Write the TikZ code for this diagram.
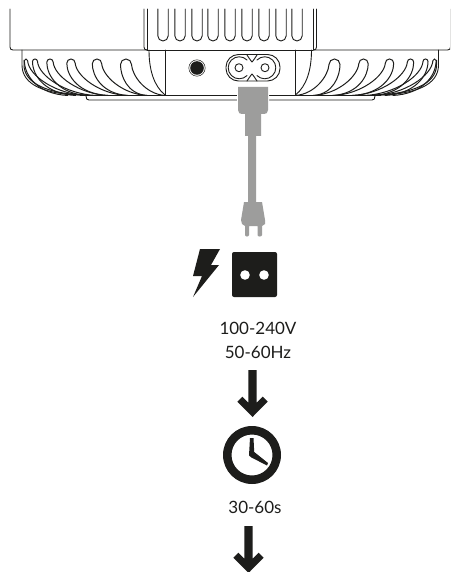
\documentclass[tikz,border=0pt]{standalone}
\usepackage{fontspec}
\setmainfont{Lato}
\definecolor{ink}{HTML}{1D1D1B}
\definecolor{plug}{HTML}{9D9D9C}
\tikzset{
  x=1pt,y=-1pt,
  outl/.style={draw=ink,line width=0.9pt,line cap=round,line join=round},
  thin outl/.style={draw=ink,line width=0.5pt},
  fin/.style={draw=ink,line width=1pt},
  solid ink/.style={fill=ink,draw=none},
  plugshape/.style={preaction={draw=white,line width=2pt},fill=plug},
  label/.style={text=ink,font=\fontsize{17}{20}\selectfont,inner sep=0pt,anchor=center}
}
\newcommand{\halfbody}{%
  \draw[outl] (10,9) -- (10,47) .. controls (10,49) and (11,50) .. (13,50) -- (147,50);
  \draw[outl] (144,9) -- (144,47) .. controls (144,49) and (145,50) .. (147,50);
  \draw[outl] (147,9) -- (147,50);
  \draw[outl] (22,50) -- (22,65) .. controls (22,85) and (45,95) .. (86,95);
  \draw[fin] (24,60) -- (24,65) .. controls (24,83) and (47,94) .. (86,95);
  \foreach \t/\h/\ya/\el/\er in {26/1.6/59/68/86,35/2.5/59/76/96,50/3.2/59/88/108,71/4.2/59/108/127,97/4.7/59/128/147,126/5.5/59/147/165}{
    \draw[fin] (\el,95.5) .. controls ({\t-\h+0.32*(\el-\t)},94) and ({\t-\h},76) .. ({\t-\h},{\ya+\h})
      arc[start angle=180,end angle=360,radius=\h]
      .. controls ({\t+\h+0.02*(\er-\t)},76) and ({\t+0.5*(\er-\t)},94) .. (\er,95.5);
  }
  \draw[outl] (149,50) .. controls (149,70) and (154,86) .. (165,95);
  \draw[outl] (165,50) -- (165,95);
}
\begin{document}
\begin{tikzpicture}
\useasboundingbox (0,0) rectangle (450,572);
\fill[white] (0,0) rectangle (450,572);
% housing, left half and its mirror image
\halfbody
\begin{scope}[xshift=460.5pt,xscale=-1]
  \begin{scope}
    \clip (10.500,0) rectangle (300,120);
    \halfbody
  \end{scope}
\end{scope}
\draw[outl] (147,50) -- (313,50);
% vent slots
\foreach \c in {163,180,197,213,230,247,264,281,297}{
  \draw[outl] (\c-5.2,9) -- (\c-5.2,35.8) arc[start angle=180,end angle=0,radius=5.2] -- (\c+5.2,9);
}
% base and foot
\draw[draw=ink,line width=1.4pt] (80,95.7) -- (381,95.7);
\draw[outl] (86,96) .. controls (86,99) and (87,100) .. (89,100) -- (372,100) .. controls (374,100) and (375,99) .. (375,96);
% jack
\draw[thin outl] (197,68) circle[radius=8.2];
\fill[ink] (197,68) circle[radius=6.8];
% socket
\draw[outl,rounded corners=12.5pt] (226,54.5) rectangle (280,81);
\draw[outl] (239,67.7) circle[radius=4];
\draw[outl] (265,67.7) circle[radius=4];
\draw[outl] (247,60) arc[start angle=-45,end angle=-315,radius=11] ;
\draw[outl] (257,60) arc[start angle=225,end angle=495,radius=11];
\draw[outl] (247,55) .. controls (249,58) and (251,61) .. (252,62) .. controls (253,61) and (255,58) .. (257,55);
\draw[outl] (247,81) .. controls (249,78) and (251,75) .. (252,74) .. controls (253,75) and (255,78) .. (257,81);
% plug and cord
\path[plugshape]
  (238,87) -- (268,87) -- (268,110) .. controls (268,113) and (266,114) .. (264,114) -- (261,114) -- (261,136) -- (256,136) -- (256,202)
  -- (262,202) .. controls (263,208) and (264,214) .. (265,220) -- (265,224) -- (262,226) -- (262,235) .. controls (262,237) and (257.500,237) .. (257.500,235) -- (257.500,226)
  -- (249,226) -- (249,235) .. controls (249,237) and (245,237) .. (245,235) -- (245,226) -- (242,224) -- (241,220) .. controls (242,214) and (243,208) .. (244,202)
  -- (248,202) -- (248,136) -- (245,136) -- (245,114) -- (242,114) .. controls (240,114) and (238,113) .. (238,110) -- cycle;
% bolt
\fill[solid ink] (200,249) -- (220,249) -- (211,265) -- (219,265) -- (193,297) -- (202,276) -- (193,276) -- cycle;
% outlet
\fill[solid ink,rounded corners=2pt] (232,252) rectangle (277,297);
\fill[white] (245,275) circle[radius=4.8];
\fill[white] (264,275) circle[radius=4.8];
% labels
\node[label] (volt) at (258,328) {100-240V};
\node[label] (freq) at (258,352) {50-60Hz};
\node[label] (time) at (255,507) {30-60s};
% arrow 1
\fill[solid ink] (248.3,370) -- (256.7,370) -- (256.7,402.700) -- (262.700,396.700) -- (267.700,401.700) -- (252.500,417) -- (237.300,401.700) -- (242.300,396.700) -- (248.300,402.700) -- cycle;
% clock
\fill[ink,even odd rule] (252,455) circle[radius=29] (252,455) circle[radius=20.500];
\fill[solid ink] (250,438) -- (253.500,438) -- (254.200,452) -- (268,463) -- (267,465.500) -- (251.500,457.500) -- (249,455.500) -- cycle;
% arrow 2
\fill[solid ink] (244.300,526) -- (252.700,526) -- (252.700,558.700) -- (258.700,552.700) -- (263.700,557.700) -- (248.500,573) -- (233.300,557.700) -- (238.300,552.700) -- (244.300,558.700) -- cycle;
\end{tikzpicture}
\end{document}
